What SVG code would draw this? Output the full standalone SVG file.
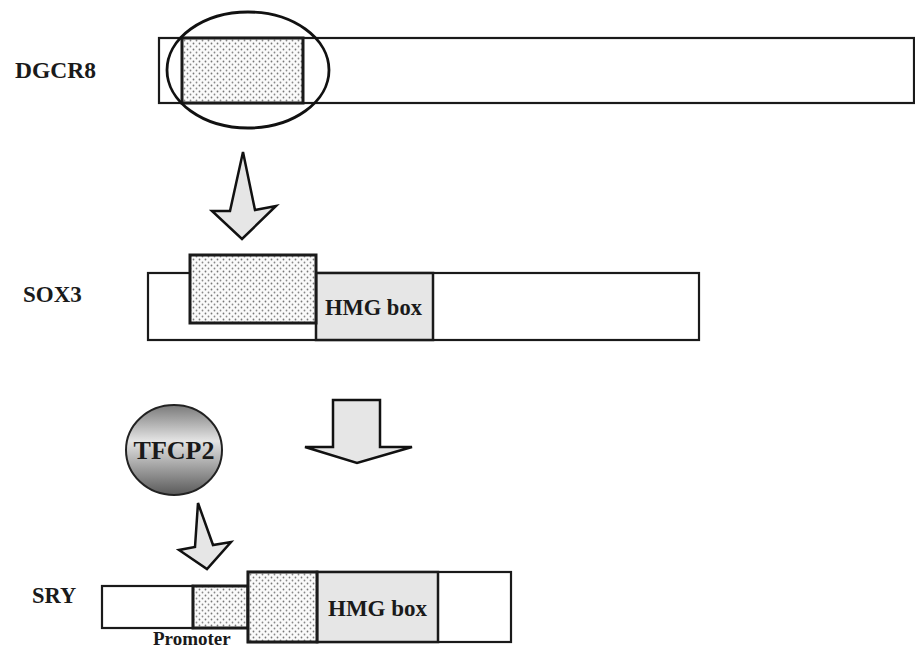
<svg xmlns="http://www.w3.org/2000/svg" width="915" height="650" viewBox="0 0 915 650">
<style>
.lbl{font-family:"Liberation Serif","Times New Roman",serif;font-weight:bold;fill:#1a1a1a}
.box{fill:#fff;stroke:#1a1a1a;stroke-width:2.2}
.dot{fill:url(#dots);stroke:#1a1a1a;stroke-width:3}
.hmg{fill:#e6e6e6;stroke:#1a1a1a;stroke-width:2.5}
.arr{fill:#e6e6e6;stroke:#111;stroke-width:2.5;stroke-linejoin:miter}
</style>
<defs>
<pattern id="dots" width="6" height="6" patternUnits="userSpaceOnUse">
<rect width="6" height="6" fill="#fafafa"/>
<circle cx="1.5" cy="1.5" r="0.9" fill="#777"/>
<circle cx="4.5" cy="4.5" r="0.9" fill="#888"/>
</pattern>
<linearGradient id="ball" x1="0" y1="0" x2="0" y2="1">
<stop offset="0" stop-color="#7a7a7a"/>
<stop offset="0.4" stop-color="#e4e4e4"/>
<stop offset="1" stop-color="#5a5a5a"/>
</linearGradient>
</defs>

<g id="dgcr8">
<rect class="box" x="159" y="38" width="755" height="65"/>
<rect class="dot" x="182" y="38" width="121" height="65"/>
<ellipse cx="248" cy="70" rx="81" ry="58" fill="none" stroke="#111" stroke-width="2.8"/>
<text class="lbl" x="15" y="78" font-size="23.5">DGCR8</text>
</g>

<g id="sox3">
<rect class="box" x="148" y="273" width="551" height="67"/>
<rect class="hmg" x="316" y="273" width="117" height="67"/>
<rect class="dot" x="190" y="255" width="126" height="68"/>
<text class="lbl" x="325" y="315" font-size="22.5">HMG box</text>
<text class="lbl" x="23" y="302" font-size="23">SOX3</text>
</g>

<g id="tfcp2">
<ellipse cx="174" cy="450" rx="48" ry="45" fill="url(#ball)" stroke="#222" stroke-width="2"/>
<text class="lbl" x="174" y="459" font-size="26" text-anchor="middle">TFCP2</text>
</g>

<g id="sry">
<rect class="box" x="102" y="586" width="91" height="42"/>
<rect class="dot" x="193" y="586" width="55" height="42"/>
<rect class="box" x="248" y="572" width="263" height="70"/>
<rect class="hmg" x="317" y="572" width="121" height="70"/>
<rect class="dot" x="248" y="572" width="69" height="70"/>
<text class="lbl" x="328" y="616" font-size="23">HMG box</text>
<text class="lbl" x="32" y="603" font-size="22.5">SRY</text>
<text class="lbl" x="153" y="645" font-size="19">Promoter</text>
</g>

<g id="connectors">
<polygon class="arr" points="243,152 255,210 276,206 242,239 212,211 230,211"/>
<polygon class="arr" points="333,400 380,400 380,447 412,447 357,463 305,447 333,447"/>
<polygon class="arr" points="198,503 213,545 231,542 207,569 179,550 195,547"/>
</g>
</svg>
